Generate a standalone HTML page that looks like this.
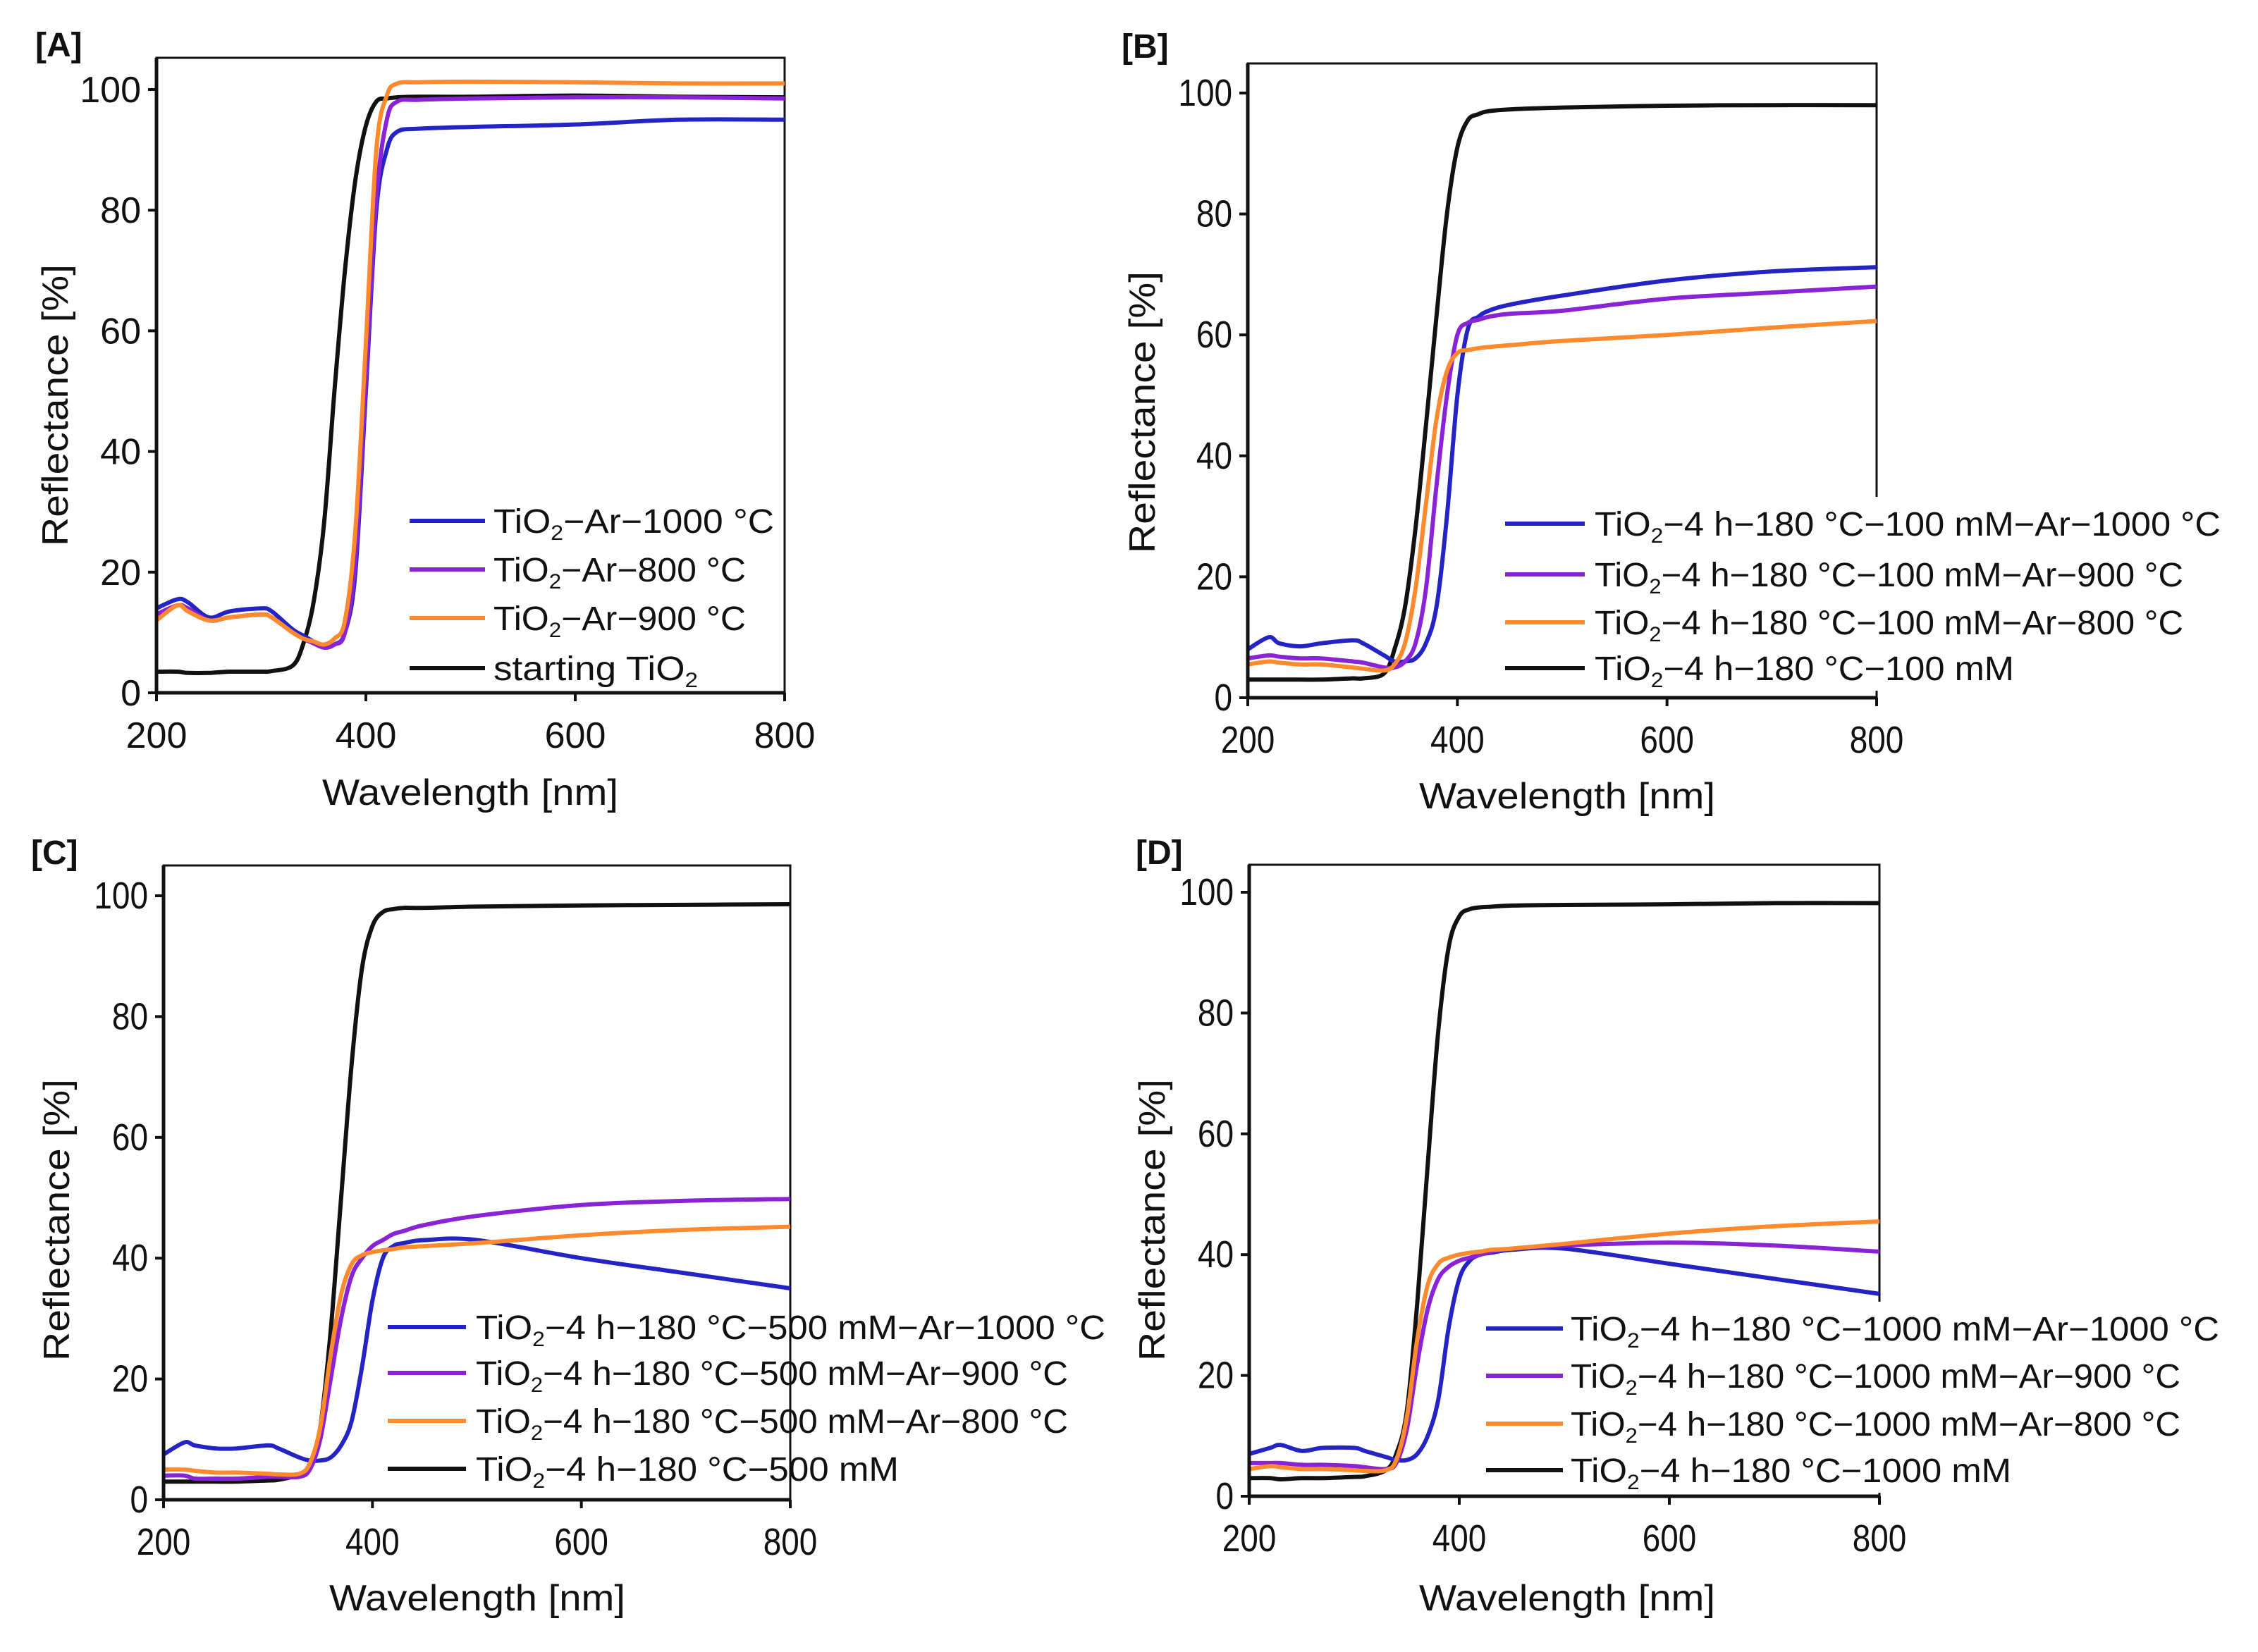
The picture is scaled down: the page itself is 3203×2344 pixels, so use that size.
<!DOCTYPE html>
<html><head><meta charset="utf-8">
<style>
html,body{margin:0;padding:0;background:#fff;}
svg{display:block;font-family:"Liberation Sans",Arial,sans-serif;}
</style></head>
<body>
<svg id="fig" width="3203" height="2344" viewBox="0 0 3203 2344" xmlns="http://www.w3.org/2000/svg"></svg>
<script>
// ---- data ----
const wavelengths = [200,220,230,250,270,300,310,330,340,350,360,370,380,390,400,410,420,430,450,500,600,700,800];
const xTicks = [200,400,600,800];
const yTicks = [0,20,40,60,80,100];

const aBlue   = [14,15.5,15,12.5,13.5,14,13.5,10.5,9.5,8.5,7.5,8,10,20,50,80,90,93,93.5,93.8,94.2,95,95];
const aPurple = [13,14.5,14,12,12.5,13,12.5,10,9,8.2,7.5,8,10,22,52,82,95,98,98.3,98.5,98.7,98.7,98.5];
const aOrange = [12,14.5,13.5,12,12.5,13,12.5,10,9,8.5,8,9,12,27,58,90,99,101,101.2,101.3,101.2,101,101];
const aBlack  = [3.5,3.5,3.3,3.3,3.5,3.5,3.6,4.5,8,15,28,50,70,85,94,98,98.5,98.7,98.8,98.8,99,98.8,98.7];

const bBlue   = [8,10,9,8.5,9,9.5,9,7,6,6,6.5,9,15,30,50,61,63,64,65,66.5,69,70.5,71.2];
const bPurple = [6.5,7,6.8,6.5,6.5,6,5.8,5,5,6,9,18,35,50,60,62,62.5,63,63.5,64,66,67,68];
const bOrange = [5.5,6,5.8,5.5,5.5,5,4.8,4.5,5.5,9,18,32,46,54,57,57.5,57.8,58,58.3,59,60,61.2,62.3];
const bBlack  = [3,3,3,3,3,3.2,3.2,4,8,15,28,45,63,80,91,95.5,96.5,97,97.3,97.6,97.9,98,98];

const cBlue   = [7.5,9.5,9,8.5,8.5,9,8.5,7,6.5,6.5,7,9,13,22,33,40,42,42.5,43,43,40,37.5,35];
const cPurple = [4,4,3.5,3.5,3.5,3.8,3.8,3.8,5,10,20,30,37,40,42,43,44,44.5,45.5,47,48.8,49.5,49.8];
const cOrange = [5,5,4.8,4.5,4.5,4.3,4.2,4.3,6,12,24,34,39,40.5,41,41.3,41.5,41.8,42,42.5,43.8,44.7,45.2];
const cBlack  = [3,3,3,3,3,3.2,3.3,4.2,6,12,28,50,72,88,95,97.3,97.8,98,98,98.2,98.4,98.5,98.6];

const dBlue   = [7,8,8.5,7.5,8,8,7.5,6.5,6,6,7,10,16,28,36,39,40,40.3,40.8,41,38.5,36,33.5];
const dPurple = [5.5,5.5,5.5,5.2,5.2,5,4.8,4.5,5.5,11,22,31,36,38,39,39.5,40,40.5,41,41.5,42,41.5,40.5];
const dOrange = [4.5,5,4.8,4.5,4.5,4.3,4.2,4.3,6,13,26,35,38.5,39.5,40,40.3,40.5,40.8,41,41.8,43.5,44.7,45.5];
const dBlack  = [3,3,2.8,3,3,3.2,3.3,4.3,7,14,32,55,77,91,96,97.2,97.5,97.6,97.8,97.9,98,98.2,98.2];

const legendA = [["TiO","−Ar−1000 °C"],["TiO","−Ar−800 °C"],["TiO","−Ar−900 °C"],["starting TiO",""]];
const legendB = [["TiO","−4 h−180 °C−100 mM−Ar−1000 °C"],["TiO","−4 h−180 °C−100 mM−Ar−900 °C"],["TiO","−4 h−180 °C−100 mM−Ar−800 °C"],["TiO","−4 h−180 °C−100 mM"]];
const legendC = [["TiO","−4 h−180 °C−500 mM−Ar−1000 °C"],["TiO","−4 h−180 °C−500 mM−Ar−900 °C"],["TiO","−4 h−180 °C−500 mM−Ar−800 °C"],["TiO","−4 h−180 °C−500 mM"]];
const legendD = [["TiO","−4 h−180 °C−1000 mM−Ar−1000 °C"],["TiO","−4 h−180 °C−1000 mM−Ar−900 °C"],["TiO","−4 h−180 °C−1000 mM−Ar−800 °C"],["TiO","−4 h−180 °C−1000 mM"]];

const BLUE="#2424c4", PURPLE="#8a22d6", ORANGE="#ff8a2e", BLACK="#111111";
const NS="http://www.w3.org/2000/svg";
const svg=document.getElementById('fig');

function mk(tag,attrs,parent){const e=document.createElementNS(NS,tag);for(const k in attrs)e.setAttribute(k,attrs[k]);(parent||svg).appendChild(e);return e;}

function smoothPath(pts){
  let d="M"+pts[0][0].toFixed(1)+","+pts[0][1].toFixed(1);
  for(let i=0;i<pts.length-1;i++){
    const p0=pts[Math.max(0,i-1)],p1=pts[i],p2=pts[i+1],p3=pts[Math.min(pts.length-1,i+2)];
    const c1=[p1[0]+(p2[0]-p0[0])/6,p1[1]+(p2[1]-p0[1])/6];
    const c2=[p2[0]-(p3[0]-p1[0])/6,p2[1]-(p3[1]-p1[1])/6];
    d+="C"+c1[0].toFixed(1)+","+c1[1].toFixed(1)+" "+c2[0].toFixed(1)+","+c2[1].toFixed(1)+" "+p2[0].toFixed(1)+","+p2[1].toFixed(1);
  }
  return d;
}

function panel(cfg){
  const g=mk('g',{});
  
  
  const X=v=>cfg.left+(v-200)/600*(cfg.right-cfg.left);
  const Y=v=>cfg.y0-v/100*(cfg.y0-cfg.y100);
  const pl=mk('text',{x:cfg.lx,y:cfg.ly,'font-size':48,'font-weight':'bold',fill:'#111'},g);
  pl.textContent='['+cfg.id.toUpperCase()+']';
  
  
  const fr=mk('rect',{x:cfg.left,y:cfg.top,width:cfg.right-cfg.left,height:cfg.y0-cfg.top,fill:'none',stroke:'#111','stroke-width':3},g);
  
  
  const series=cfg.series;
  const colors=[BLUE,PURPLE,ORANGE,BLACK];
  const order=[3,0,1,2];
  order.forEach(i=>{
    const pts=wavelengths.map((w,j)=>[X(w),Y(series[i][j])]);
    const p=mk('path',{d:smoothPath(pts),fill:'none',stroke:colors[i],'stroke-width':6,'stroke-linejoin':'round'},g);
    
    
  });
  const ax=mk('line',{x1:cfg.left,y1:cfg.y0,x2:cfg.right,y2:cfg.y0,stroke:'#111','stroke-width':5},g);
  
  
  const ay=mk('line',{x1:cfg.left,y1:cfg.top,x2:cfg.left,y2:cfg.y0,stroke:'#111','stroke-width':5},g);
  
  
  const fs=cfg.fs, sx=cfg.sx;
  xTicks.forEach(t=>{
    mk('line',{x1:X(t),y1:cfg.y0,x2:X(t),y2:cfg.y0+12,stroke:'#111','stroke-width':4},g);
    const tx=mk('text',{x:X(t),y:cfg.y0+78,'font-size':fs,'text-anchor':'middle',fill:'#111',transform:`translate(${X(t)},0) scale(${sx},1) translate(${-X(t)},0)`},g);
    tx.textContent=t;
    
    
  });
  yTicks.forEach(t=>{
    mk('line',{x1:cfg.left-12,y1:Y(t),x2:cfg.left,y2:Y(t),stroke:'#111','stroke-width':4},g);
    const rx=cfg.left-22;
    const ty=mk('text',{x:rx,y:Y(t)+18,'font-size':fs,'text-anchor':'end',fill:'#111',transform:`translate(${rx},0) scale(${sx},1) translate(${-rx},0)`},g);
    ty.textContent=t;
    
    
  });
  const xt=mk('text',{x:cfg.xtx,y:cfg.xty,'font-size':52,'text-anchor':'middle',fill:'#111',textLength:cfg.xtl,lengthAdjust:'spacingAndGlyphs'},g);
  xt.textContent='Wavelength [nm]';
  
  
  const yt=mk('text',{x:0,y:0,'font-size':52,'text-anchor':'middle',fill:'#111',transform:`translate(${cfg.ytx},${cfg.yty}) rotate(-90)`,textLength:400,lengthAdjust:'spacingAndGlyphs'},g);
  yt.textContent='Reflectance [%]';
  
  
  const lg=mk('g',{},g);
  
  
  mk('rect',{x:cfg.legX0-6,y:cfg.legRows[0]-38,width:cfg.legBgW,height:cfg.legRows[3]-cfg.legRows[0]+70,fill:'#fff'},lg);
  const legColors=cfg.legColors;
  cfg.legend.forEach((lab,i)=>{
    const yy=cfg.legRows[i];
    const ln=mk('line',{x1:cfg.legX0,y1:yy,x2:cfg.legX1,y2:yy,stroke:legColors[i],'stroke-width':6},lg);
    
    
    const t=mk('text',{x:cfg.legTx,y:yy+17,'font-size':48,fill:'#111',textLength:cfg.legLens[i],lengthAdjust:'spacingAndGlyphs'},lg);
    
    
    t.appendChild(document.createTextNode(lab[0]));
    const sub=mk('tspan',{'font-size':30,dy:10},t); sub.textContent='2';
    if(lab[1]){const r=mk('tspan',{dy:-10},t); r.textContent=lab[1];}
  });
}

panel({id:'a',left:222,right:1113,top:82,y0:983,y100:127,lx:50,ly:80,fs:52,sx:1,
  xtx:667,xty:1142,xtl:420,ytx:96,yty:575,series:[aBlue,aPurple,aOrange,aBlack],
  legend:legendA,legColors:[BLUE,PURPLE,ORANGE,BLACK],legRows:[739,808,877,948],legX0:581,legX1:688,legTx:700,
  legLens:[398,358,358,290],legBgW:0});
panel({id:'b',left:1770,right:2662,top:90,y0:990,y100:132,lx:1591,ly:82,fs:54,sx:0.85,
  xtx:2223,xty:1147,xtl:420,ytx:1638,yty:585,series:[bBlue,bPurple,bOrange,bBlack],
  legend:legendB,legColors:[BLUE,PURPLE,ORANGE,BLACK],legRows:[743,815,883,948],legX0:2135,legX1:2248,legTx:2262,
  legLens:[888,835,835,595],legBgW:560});
panel({id:'c',left:232,right:1121,top:1228,y0:2128,y100:1271,lx:44,ly:1226,fs:54,sx:0.85,
  xtx:677,xty:2285,xtl:420,ytx:98,yty:1731,series:[cBlue,cPurple,cOrange,cBlack],
  legend:legendC,legColors:[BLUE,PURPLE,ORANGE,BLACK],legRows:[1883,1948,2016,2084],legX0:550,legX1:661,legTx:675,
  legLens:[893,840,840,600],legBgW:560});
panel({id:'d',left:1772,right:2666,top:1227,y0:2123,y100:1266,lx:1611,ly:1226,fs:54,sx:0.85,
  xtx:2223,xty:2285,xtl:420,ytx:1652,yty:1731,series:[dBlue,dPurple,dOrange,dBlack],
  legend:legendD,legColors:[BLUE,PURPLE,ORANGE,BLACK],legRows:[1885,1952,2020,2086],legX0:2108,legX1:2217,legTx:2228,
  legLens:[920,865,865,625],legBgW:580});
</script>
</body></html>
